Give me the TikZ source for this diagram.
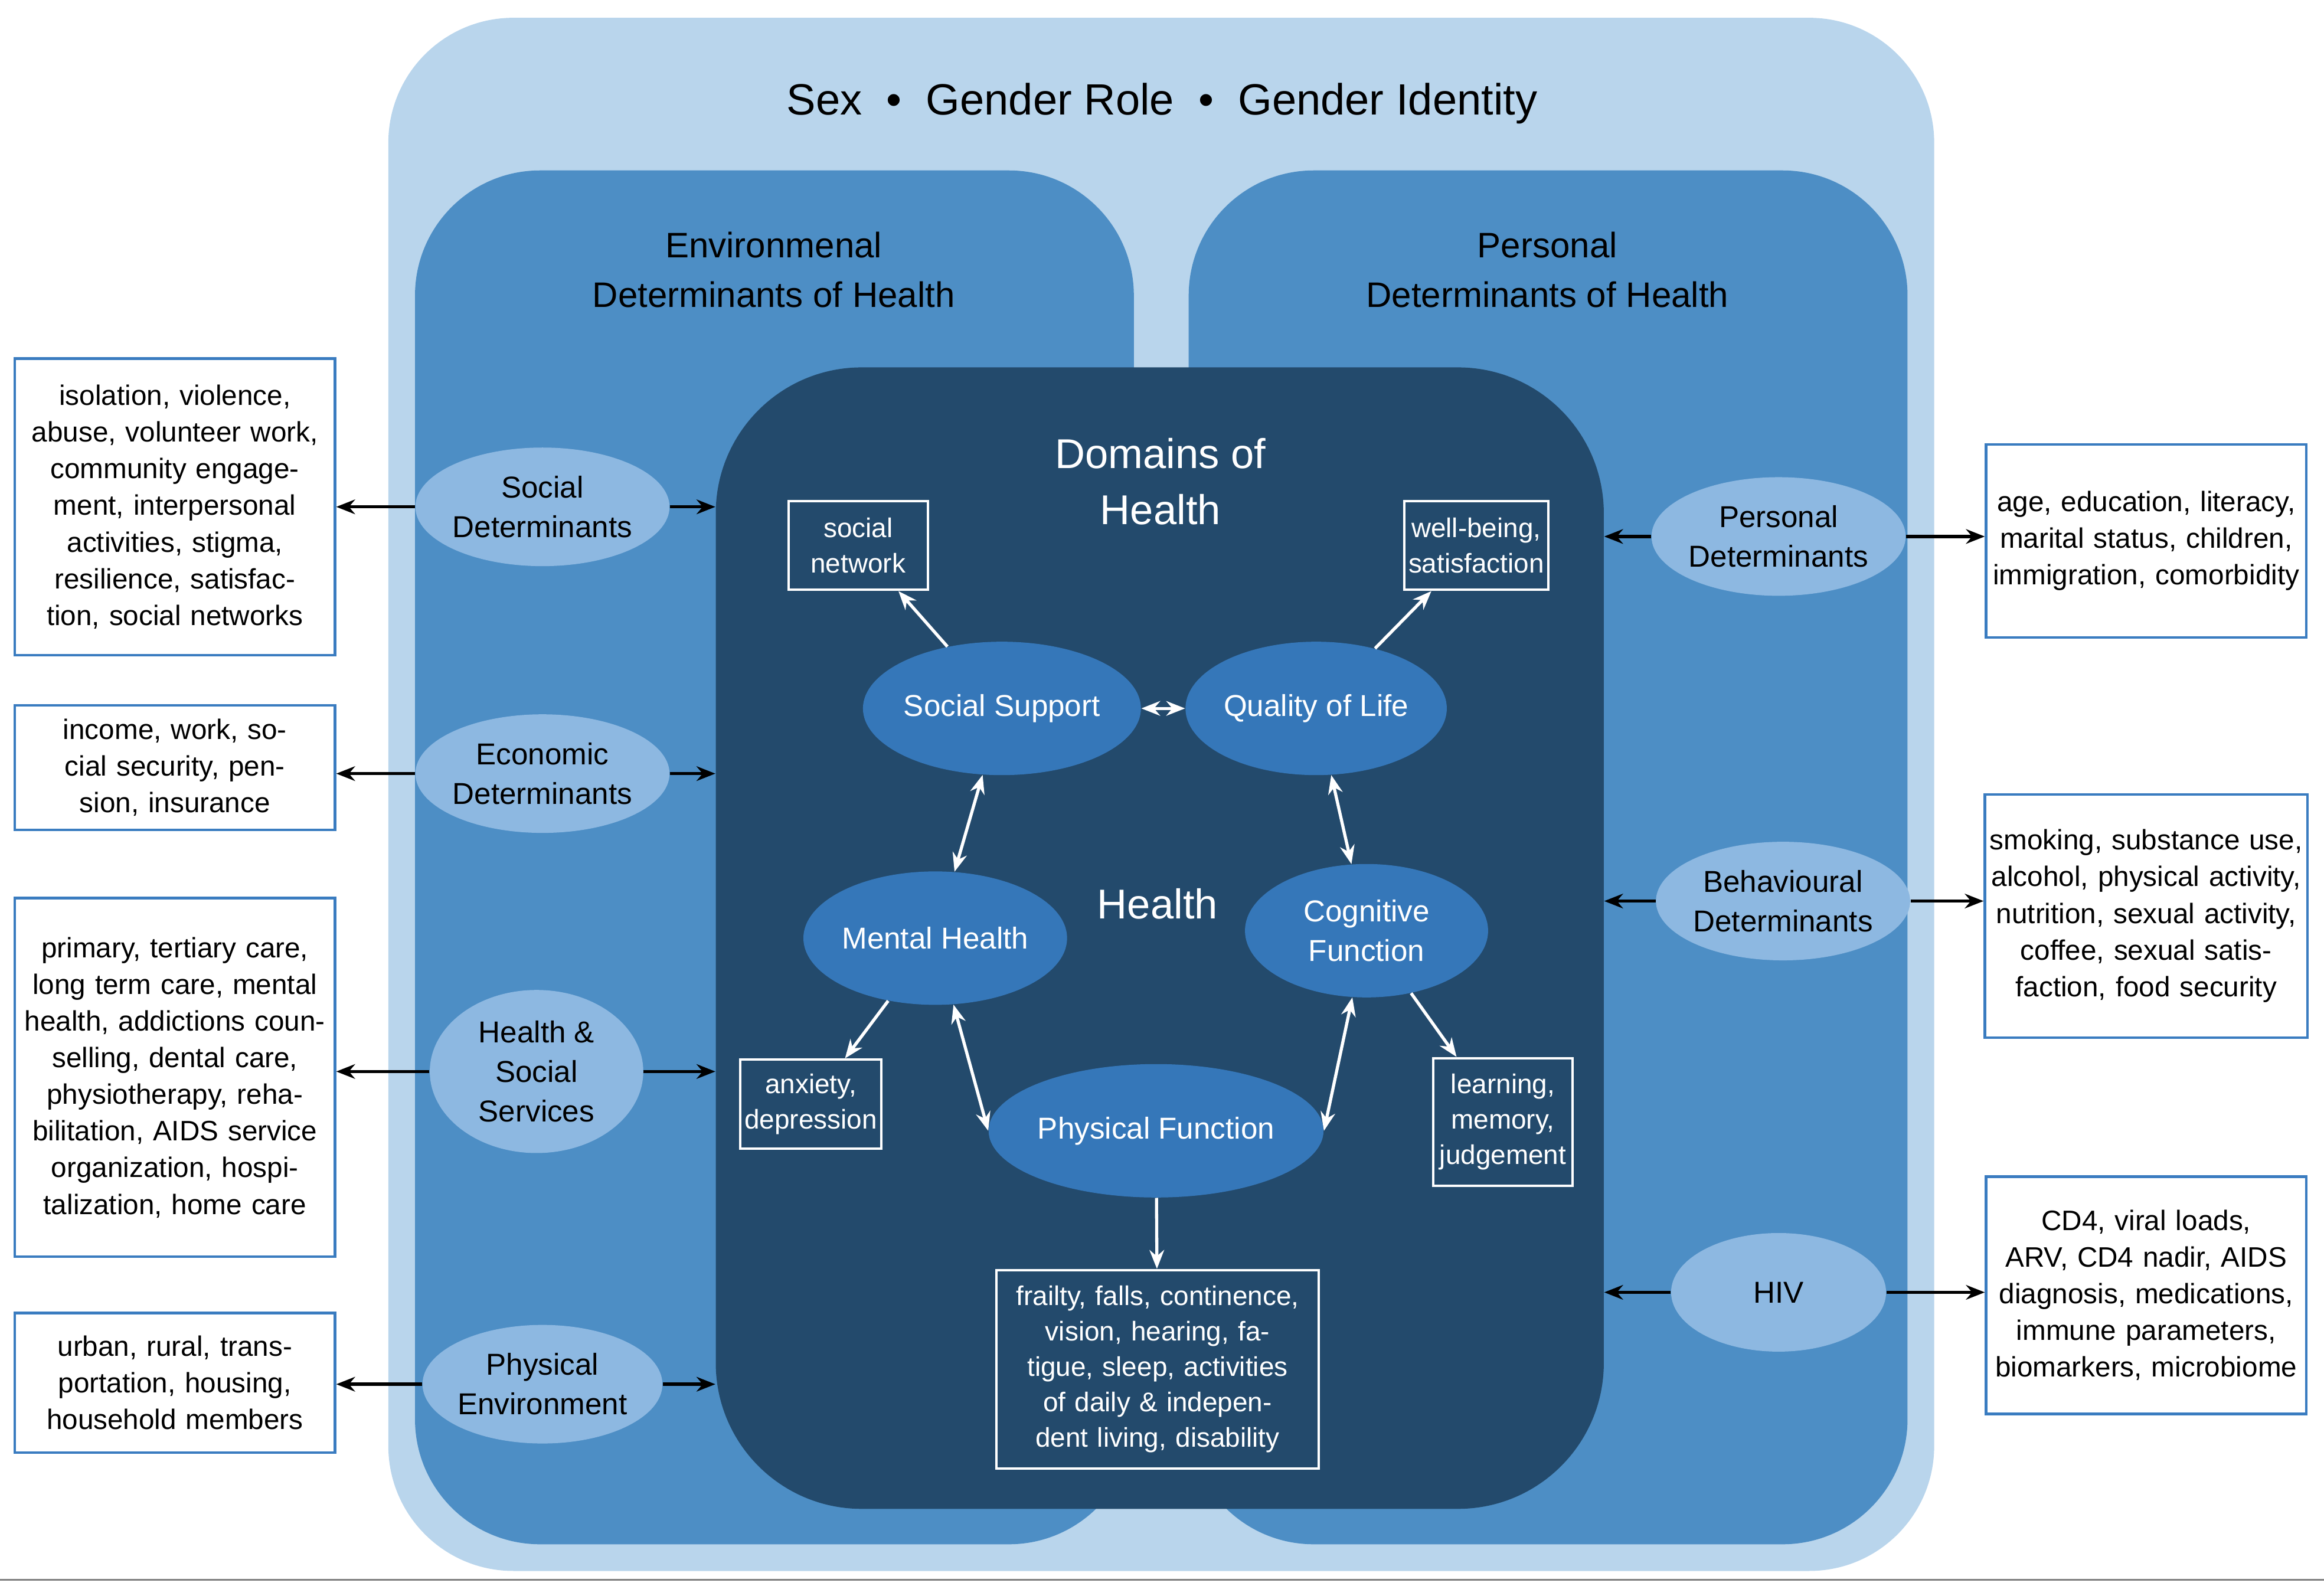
\documentclass[tikz,border=0pt]{standalone}
\usepackage{fontspec}
\setmainfont{Liberation Sans}
\usetikzlibrary{arrows.meta,shapes.geometric}
\definecolor{outerc}{HTML}{B9D5EC}
\definecolor{panelc}{HTML}{4D8EC5}
\definecolor{darkc}{HTML}{234A6C}
\definecolor{lightell}{HTML}{8DB8E1}
\definecolor{innerell}{HTML}{3577B9}
\definecolor{boxb}{HTML}{3A7CC0}
\begin{document}
\begin{tikzpicture}[x=0.025cm,y=-0.025cm,
  lell/.style={ellipse,fill=lightell,minimum width=3.625cm,minimum height=2cm,inner sep=0pt,align=center,font=\fontsize{14.5}{19}\selectfont},
  iell/.style={ellipse,fill=innerell,minimum width=4.1cm,minimum height=2.25cm,inner sep=0pt,align=center,text=white,font=\fontsize{14.5}{19}\selectfont},
  obox/.style={draw=boxb,line width=1.2pt,fill=white,align=center,inner sep=2pt,font=\fontsize{13.5}{17.6}\selectfont},
  ibox/.style={draw=white,line width=1.2pt,align=center,text=white,inner sep=2pt,font=\fontsize{13}{17}\selectfont},
  arr/.style={-{Stealth[length=9pt,width=7pt]},line width=1.5pt,black},
  darr/.style={{Stealth[length=9pt,width=7pt]}-{Stealth[length=9pt,width=7pt]},line width=1.5pt,white},
  warr/.style={-{Stealth[length=9pt,width=7pt]},line width=1.5pt,white}]
\useasboundingbox (0,0) rectangle (1568,1070);
\fill[outerc,rounded corners=60] (262,12) rectangle (1305,1060);
\fill[panelc,rounded corners=60] (280,115) rectangle (765,1042);
\fill[panelc,rounded corners=60] (802,115) rectangle (1287,1042);
\node[fill=darkc,rounded corners=70,minimum width=14.975cm,minimum height=19.25cm,inner sep=0pt] (dom) at (782.5,633) {};
\draw[gray,line width=0.8pt] (0,1066) -- (1568,1066);
\node (title) at (784,70) {\fontsize{21}{25}\selectfont Sex\ \ \textbullet\ \ Gender Role\ \ \textbullet\ \ Gender Identity};
\node[align=center,font=\fontsize{17}{24}\selectfont] (envt) at (522,182) {Environmenal\\Determinants of Health};
\node[align=center,font=\fontsize{17}{24}\selectfont] (pert) at (1044,182) {Personal\\Determinants of Health};
\node[align=center,text=white,font=\fontsize{20}{27}\selectfont] (domt) at (783,325) {Domains of\\Health};
\node[text=white,font=\fontsize{20}{25}\selectfont] (healtht) at (781,610) {Health};
% left
\node[lell] (sd) at (366,342) {Social\\Determinants};
\node[lell] (ed) at (366,522) {Economic\\Determinants};
\node[lell,minimum width=3.6cm,minimum height=2.75cm] (hs) at (362,723) {Health \&\\Social\\Services};
\node[lell] (pe) at (366,934) {Physical\\Environment};
\node[obox,minimum width=5.4cm,minimum height=5cm,text width=5.2cm] (b1) at (118,342) {isolation, violence, abuse, volunteer work, community engagement, interpersonal activities, stigma, resilience, satisfaction, social networks};
\node[obox,minimum width=5.4cm,minimum height=2.1cm,text width=5cm] (b2) at (118,518) {income, work, social security, pension, insurance};
\node[obox,minimum width=5.4cm,minimum height=6.05cm,text width=5.1cm] (b3) at (118,727) {primary, tertiary care, long term care, mental health, addictions counselling, dental care, physiotherapy, rehabilitation, AIDS service organization, hospitalization, home care};
\node[obox,minimum width=5.4cm,minimum height=2.35cm,text width=5.2cm] (b4) at (118,933) {urban, rural, transportation, housing, household members};
\foreach \e/\b in {sd/b1,ed/b2,hs/b3,pe/b4}{
  \draw[arr] (\e.west) -- (\e.west -| \b.east);
  \draw[arr] (\e.east) -- (\e.east -| dom.west);}
% right
\node[lell] (pd) at (1200,362) {Personal\\Determinants};
\node[lell,minimum width=3.7cm] (bd) at (1203,608) {Behavioural\\Determinants};
\node[lell] (hiv) at (1200,872) {HIV};
\node[obox,minimum width=5.4cm,minimum height=3.25cm,text width=5.2cm] (r1) at (1448,365) {age, education, literacy, marital status, children, immigration, comorbidity};
\node[obox,minimum width=5.4cm,minimum height=4.1cm,text width=5.3cm] (r2) at (1448,618) {smoking, substance use, alcohol, physical activity, nutrition, sexual activity, coffee, sexual satisfaction, food security};
\node[obox,minimum width=5.4cm,minimum height=4cm,text width=5.2cm] (r3) at (1448,874) {CD4, viral loads, ARV, CD4 nadir, AIDS diagnosis, medications, immune parameters, biomarkers, microbiome};
\foreach \e/\b in {pd/r1,bd/r2,hiv/r3}{
  \draw[arr] (\e.west) -- (\e.west -| dom.east);
  \draw[arr] (\e.east) -- (\e.east -| \b.west);}
% inner
\node[iell] (ss) at (676,478) {Social Support};
\node[iell] (ql) at (888,478) {Quality of Life};
\node[iell] (mh) at (631,633) {Mental Health};
\node[iell] (cf) at (922,628) {Cognitive\\Function};
\node[iell] (pf) at (780,763) {Physical Function};
\node[ibox,minimum width=2.35cm,minimum height=1.5cm] (sn) at (579,368) {social\\network};
\node[ibox,minimum width=2.35cm,minimum height=1.5cm] (wb) at (996,368) {well-being,\\satisfaction};
\node[ibox,minimum width=2.35cm,minimum height=1.5cm] (ad) at (547,745) {anxiety,\\depression};
\node[ibox,minimum width=2.35cm,minimum height=2.15cm] (lm) at (1014,757) {learning,\\memory,\\judgement};
\node[ibox,minimum width=5.4cm,minimum height=3.35cm,text width=5.3cm] (fr) at (781,924) {frailty, falls, continence, vision, hearing, fatigue, sleep, activities of daily \& independent living, disability};
\draw[darr] (ss) -- (ql);
\draw[darr] (ss) -- (mh);
\draw[darr] (ql) -- (cf);
\draw[darr] (mh) -- (pf.west);
\draw[darr] (cf) -- (pf.east);
\draw[warr] (ss) -- (sn);
\draw[warr] (ql) -- (wb);
\draw[warr] (mh) -- (ad);
\draw[warr] (cf) -- (lm);
\draw[warr] (pf) -- (fr);
\end{tikzpicture}
\end{document}
